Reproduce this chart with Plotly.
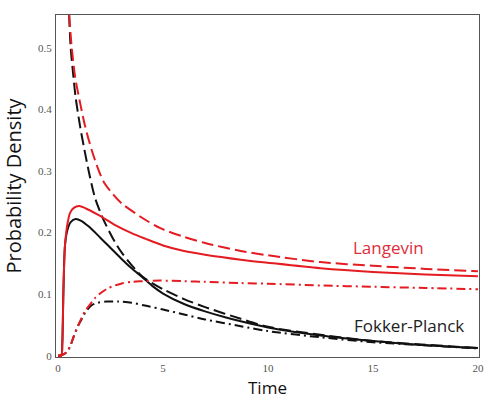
import plotly.graph_objects as go

# ---- data ----
fp_solid_t = [0, 0.15, 0.2, 0.25, 0.33, 0.45, 0.6, 0.84, 1.1, 1.45, 2.0, 2.5, 3.0, 3.5, 4.0, 4.5, 5.0, 6.0, 7.0, 8.0, 8.7, 10, 12.5, 15, 17.5, 20]
fp_solid_v = [0, 0.0, 0.02, 0.10, 0.18, 0.205, 0.217, 0.222, 0.219, 0.210, 0.192, 0.175, 0.158, 0.142, 0.128, 0.113, 0.101, 0.084, 0.072, 0.062, 0.056, 0.046, 0.033, 0.024, 0.017, 0.0125]

fp_dash_t = [0.525, 0.6, 0.73, 0.84, 1.05, 1.25, 1.5, 1.77, 2.16, 2.7, 3.04, 4.0, 5.0, 6.0, 7.0, 8.7, 10, 12.5, 15, 17.5, 20]
fp_dash_v = [0.553, 0.50, 0.453, 0.418, 0.372, 0.335, 0.293, 0.255, 0.221, 0.185, 0.167, 0.129, 0.108, 0.092, 0.079, 0.060, 0.047, 0.034, 0.024, 0.018, 0.0125]

fp_dd_t = [0, 0.3, 0.45, 0.57, 0.75, 0.97, 1.13, 1.29, 1.6, 1.9, 2.3, 2.86, 3.5, 4.2, 5.0, 6.0, 7.0, 8.7, 10, 12.5, 15, 17.5, 20]
fp_dd_v = [0, 0.003, 0.008, 0.015, 0.032, 0.05, 0.060, 0.070, 0.082, 0.086, 0.088, 0.088, 0.086, 0.081, 0.075, 0.067, 0.059, 0.048, 0.040, 0.030, 0.022, 0.017, 0.012]

lg_solid_t = [0, 0.15, 0.2, 0.25, 0.33, 0.45, 0.57, 0.75, 1.0, 1.45, 2.0, 2.72, 3.5, 4.15, 5.0, 6.0, 7.0, 8.7, 10, 12.5, 15, 17.5, 20]
lg_solid_v = [0, 0.0, 0.02, 0.10, 0.18, 0.215, 0.232, 0.240, 0.243, 0.237, 0.227, 0.212, 0.199, 0.190, 0.179, 0.170, 0.164, 0.156, 0.151, 0.142, 0.136, 0.132, 0.129]

lg_dash_t = [0.525, 0.65, 0.81, 1.05, 1.29, 1.6, 1.92, 2.16, 2.64, 3.04, 4.0, 4.87, 6.0, 7.0, 8.7, 10, 12.5, 15, 17.5, 20]
lg_dash_v = [0.553, 0.50, 0.453, 0.41, 0.372, 0.334, 0.302, 0.283, 0.261, 0.247, 0.224, 0.207, 0.193, 0.183, 0.170, 0.163, 0.152, 0.146, 0.141, 0.137]

lg_dd_t = [0, 0.3, 0.45, 0.57, 0.75, 0.97, 1.13, 1.29, 1.45, 1.77, 2.0, 2.4, 3.0, 3.5, 4.0, 4.87, 6.0, 7.0, 8.7, 10, 12.5, 15, 17.5, 20]
lg_dd_v = [0, 0.003, 0.008, 0.015, 0.032, 0.05, 0.062, 0.073, 0.080, 0.094, 0.101, 0.110, 0.117, 0.120, 0.121, 0.122, 0.121, 0.120, 0.118, 0.117, 0.114, 0.112, 0.110, 0.108]

x_ticks = [0, 5, 10, 15, 20]
y_ticks = [0, 0.1, 0.2, 0.3, 0.4, 0.5]
y_tick_text = ["0", "0.1", "0.2", "0.3", "0.4", "0.5"]

BLACK = "#111111"
RED = "rgb(228,28,34)"
DASH = "12px,5px"
DASHDOT = "9px,4px,2px,4px"

fig = go.Figure()

def add(t, v, color, dash):
    fig.add_trace(go.Scatter(x=t, y=v, mode="lines",
                             line=dict(color=color, width=2, dash=dash, shape="spline", smoothing=0.8),
                             showlegend=False, hoverinfo="skip"))

add(fp_solid_t, fp_solid_v, BLACK, "solid")
add(fp_dash_t, fp_dash_v, BLACK, DASH)
add(fp_dd_t, fp_dd_v, BLACK, DASHDOT)
add(lg_solid_t, lg_solid_v, RED, "solid")
add(lg_dash_t, lg_dash_v, RED, DASH)
add(lg_dd_t, lg_dd_v, RED, DASHDOT)

fig.add_annotation(x=15.75, y=0.175, text="Langevin", showarrow=False,
                   font=dict(family="Open Sans", size=17, color="rgb(222,45,60)"))
fig.add_annotation(x=16.7, y=0.049, text="Fokker-Planck", showarrow=False,
                   font=dict(family="Open Sans", size=17, color="#222222"))
# x-axis title placed as a paper annotation for exact positioning
fig.add_annotation(x=0.501, y=-0.1251, xref="paper", yref="paper", text="Time",
                   showarrow=False, xanchor="center", yanchor="bottom", borderpad=0,
                   font=dict(family="Open Sans", size=17, color="#111111"))

axis_common = dict(showgrid=False, zeroline=False, showline=True, mirror=True,
                   linecolor="#555555", linewidth=1, automargin=False,
                   ticks="outside", ticklen=1, tickcolor="rgba(0,0,0,0)",
                   tickfont=dict(family="Liberation Serif", size=11, color="#555555"))

fig.update_xaxes(range=[-0.1, 20.05], tickvals=x_ticks, **axis_common)
fig.update_yaxes(range=[-0.002, 0.553], tickvals=y_ticks, ticktext=y_tick_text,
                 title=dict(text="Probability Density", font=dict(family="Open Sans", size=20, color="#111111"), standoff=12),
                 **axis_common)

fig.update_layout(width=489, height=400, margin=dict(l=56, r=10, t=15, b=43),
                  paper_bgcolor="white", plot_bgcolor="white")

fig.write_html("out.html")
